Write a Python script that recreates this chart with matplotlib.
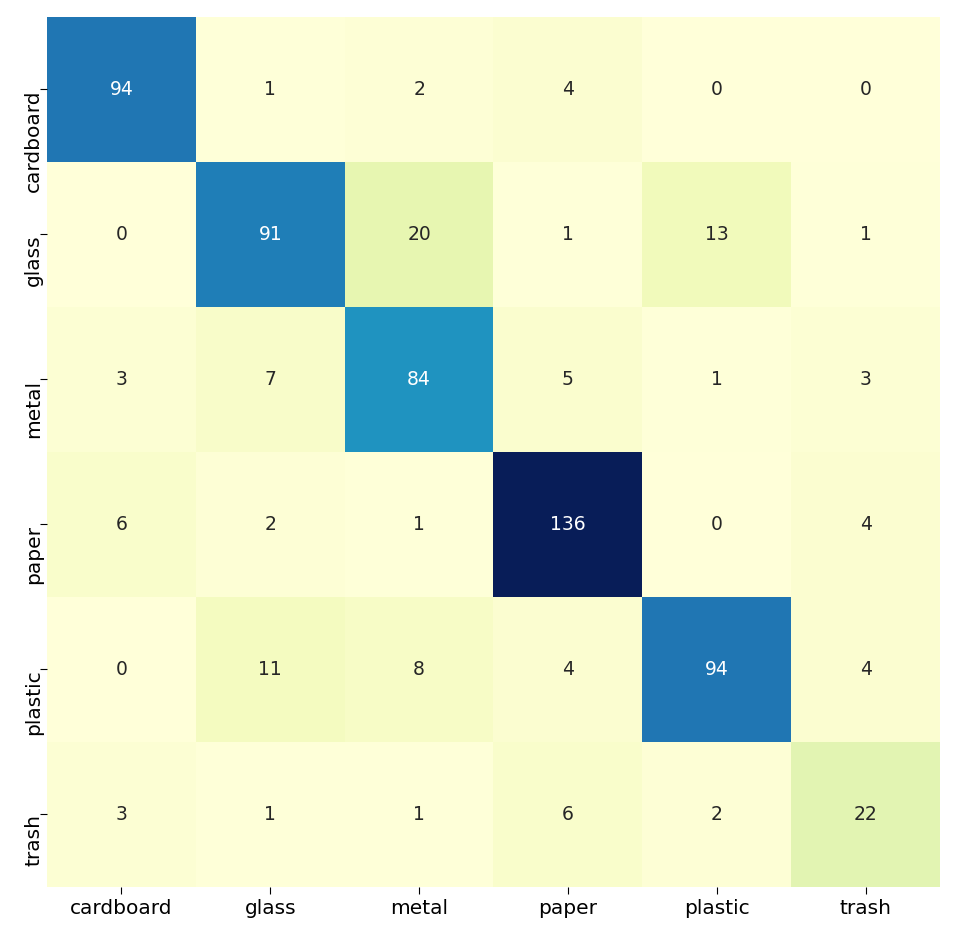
import matplotlib
matplotlib.use("Agg")
import matplotlib.pyplot as plt
import seaborn as sns
import numpy as np

labels = ["cardboard", "glass", "metal", "paper", "plastic", "trash"]
row_cardboard = [94, 1, 2, 4, 0, 0]
row_glass = [0, 91, 20, 1, 13, 1]
row_metal = [3, 7, 84, 5, 1, 3]
row_paper = [6, 2, 1, 136, 0, 4]
row_plastic = [0, 11, 8, 4, 94, 4]
row_trash = [3, 1, 1, 6, 2, 22]

cm = np.array([row_cardboard, row_glass, row_metal, row_paper, row_plastic, row_trash])

fig = plt.figure(figsize=(9.58, 9.30), dpi=100)
ax = fig.add_axes([47/958, 1-887/930, (940-47)/958, (887-17)/930])
sns.heatmap(cm, annot=True, fmt="d", cmap="YlGnBu", cbar=False,
            xticklabels=labels, yticklabels=labels, ax=ax,
            annot_kws={"fontsize": 13.5})
ax.tick_params(axis="both", labelsize=14.5, length=5)
ax.tick_params(axis="y", pad=6)
plt.setp(ax.get_yticklabels(), rotation=90, rotation_mode="anchor",
         ha="right", va="center_baseline")
fig.savefig("out.png", dpi=100)
